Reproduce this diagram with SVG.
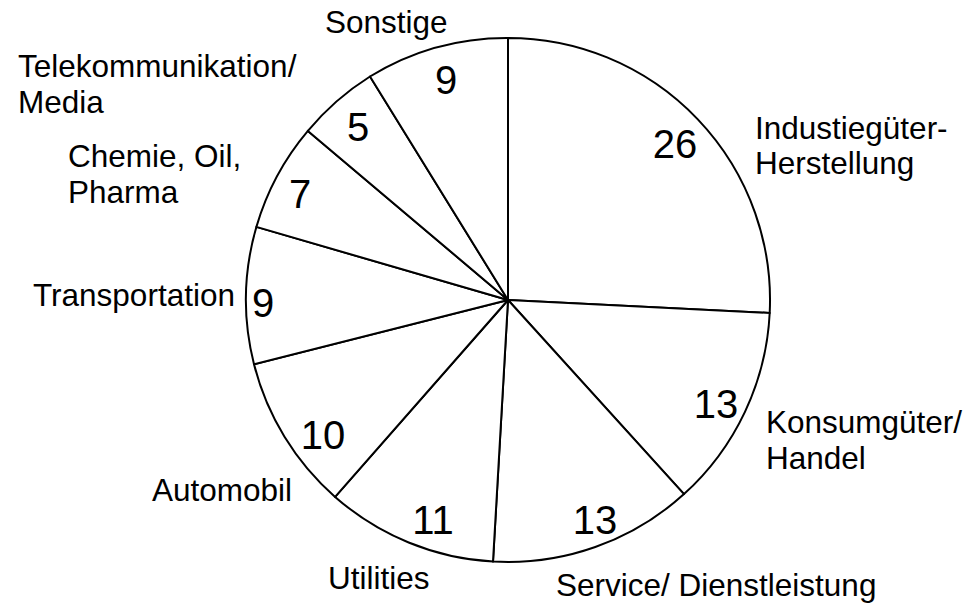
<svg xmlns="http://www.w3.org/2000/svg" width="964" height="604" viewBox="0 0 964 604">
<style>
.w{fill:#fff;stroke:#000;stroke-width:2;stroke-linejoin:round}
.n{font-family:"Liberation Sans",Arial,sans-serif;font-size:40px;fill:#000;text-anchor:middle}
.l{font-family:"Liberation Sans",Arial,sans-serif;font-size:31.5px;fill:#000}
</style>
<rect width="964" height="604" fill="#fff"/>
<g id="slice-industie">
<path class="w" d="M508,300 L508,38 A262,262 0 0 1 769.7,313 Z"/>
<text class="n" x="675" y="158">26</text>
<text class="l" x="755" y="139">Industiegüter-</text>
<text class="l" x="755" y="174">Herstellung</text>
</g>
<g id="slice-konsum">
<path class="w" d="M508,300 L769.7,313 A262,262 0 0 1 684,494.1 Z"/>
<text class="n" x="716" y="418">13</text>
<text class="l" x="766" y="433">Konsumgüter/</text>
<text class="l" x="766" y="469">Handel</text>
</g>
<g id="slice-service">
<path class="w" d="M508,300 L684,494.1 A262,262 0 0 1 493,561.6 Z"/>
<text class="n" x="595" y="534">13</text>
<text class="l" x="556" y="596">Service/ Dienstleistung</text>
</g>
<g id="slice-utilities">
<path class="w" d="M508,300 L493,561.6 A262,262 0 0 1 335.1,496.9 Z"/>
<text class="n" x="433" y="534">11</text>
<text class="l" x="328" y="589">Utilities</text>
</g>
<g id="slice-automobil">
<path class="w" d="M508,300 L335.1,496.9 A262,262 0 0 1 254,364.3 Z"/>
<text class="n" x="323" y="449">10</text>
<text class="l" x="152" y="501">Automobil</text>
</g>
<g id="slice-transportation">
<path class="w" d="M508,300 L254,364.3 A262,262 0 0 1 256.4,226.9 Z"/>
<text class="n" x="263" y="317">9</text>
<text class="l" x="33" y="306">Transportation</text>
</g>
<g id="slice-chemie">
<path class="w" d="M508,300 L256.4,226.9 A262,262 0 0 1 307.9,130.9 Z"/>
<text class="n" x="300" y="208">7</text>
<text class="l" x="68" y="167">Chemie, Oil,</text>
<text class="l" x="68" y="203">Pharma</text>
</g>
<g id="slice-telekom">
<path class="w" d="M508,300 L307.9,130.9 A262,262 0 0 1 370,76.5 Z"/>
<text class="n" x="358" y="141">5</text>
<text class="l" x="18" y="77">Telekommunikation/</text>
<text class="l" x="18" y="113">Media</text>
</g>
<g id="slice-sonstige">
<path class="w" d="M508,300 L370,76.5 A262,262 0 0 1 508,38 Z"/>
<text class="n" x="446" y="94">9</text>
<text class="l" x="325" y="33">Sonstige</text>
</g>
<g id="connectors"></g>
</svg>
